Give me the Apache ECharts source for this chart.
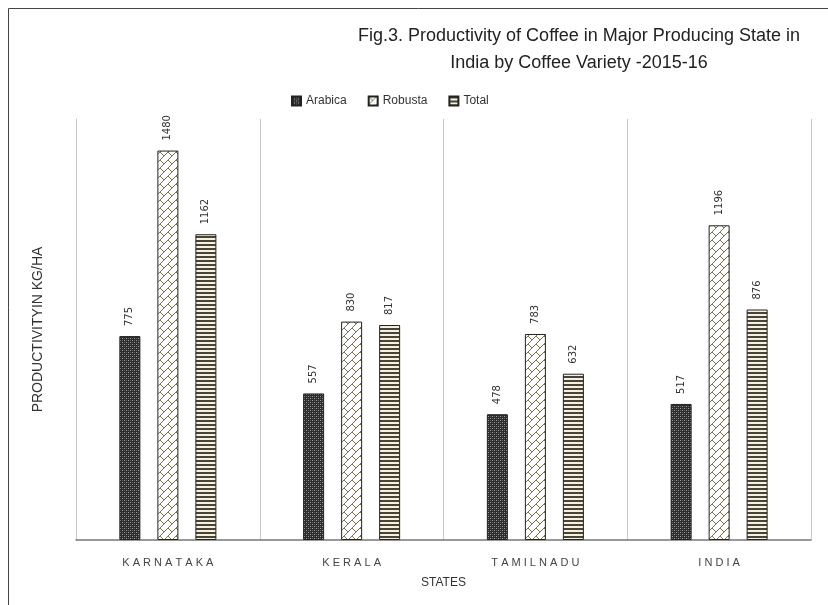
<!DOCTYPE html>
<html>
<head>
<meta charset="utf-8">
<script src="https://cdn.jsdelivr.net/npm/echarts@6/dist/echarts.min.js"></script>
<style>
  html, body { margin: 0; padding: 0; background: #fff; }
  #chart { width: 828px; height: 605px; }
</style>
</head>
<body>
<div id="chart"></div>
<script>
const states = ['KARNATAKA', 'KERALA', 'TAMILNADU', 'INDIA']
const arabica = [775, 557, 478, 517]
const robusta = [1480, 830, 783, 1196]
const total = [1162, 817, 632, 876]

// fill patterns, roughly like the office hatch fills
function makeTile(w, h, draw) {
  const c = document.createElement('canvas')
  c.width = w
  c.height = h
  draw(c.getContext('2d'))
  return c
}

const checkTile = makeTile(4, 4, ctx => {
  ctx.fillStyle = '#2c2c2c'
  ctx.fillRect(0, 0, 4, 4)
  ctx.fillStyle = '#a0a0a0'
  ctx.fillRect(0, 0, 1, 1)
  ctx.fillRect(2, 2, 1, 1)
  ctx.fillStyle = '#606060'
  ctx.fillRect(2, 0, 1, 1)
  ctx.fillRect(0, 2, 1, 1)
})

// diagonal brick ("shingle") hatch
const shingleTile = makeTile(16, 16, ctx => {
  ctx.fillStyle = '#fff'
  ctx.fillRect(0, 0, 16, 16)
  ctx.strokeStyle = '#7d7550'
  ctx.lineWidth = 1
  ctx.beginPath()
  ctx.moveTo(-2, 10); ctx.lineTo(10, -2)
  ctx.moveTo(-2, 18); ctx.lineTo(18, -2)
  ctx.moveTo(6, 18); ctx.lineTo(18, 6)
  ctx.moveTo(0, 0); ctx.lineTo(4, 4)
  ctx.moveTo(8, 8); ctx.lineTo(12, 12)
  ctx.moveTo(8, 0); ctx.lineTo(12, 4)
  ctx.moveTo(0, 8); ctx.lineTo(4, 12)
  ctx.stroke()
})

const stripeTile = makeTile(4, 4, ctx => {
  ctx.fillStyle = '#f3f0e6'
  ctx.fillRect(0, 0, 4, 4)
  ctx.fillStyle = '#4b4431'
  ctx.fillRect(0, 0, 4, 2)
})

function pattern(tile) {
  return { image: tile, repeat: 'repeat' }
}

const labelOpt = {
  show: true,
  position: 'top',
  rotate: 90,
  align: 'left',
  verticalAlign: 'middle',
  distance: 10,
  fontFamily: 'DejaVu Sans',
  fontSize: 10,
  color: '#333'
}

function barSeries(name, data, tile) {
  return {
    name: name,
    type: 'bar',
    data: data,
    barWidth: 21,
    barGap: '81%',
    itemStyle: {
      color: pattern(tile),
      borderColor: '#222',
      borderWidth: 1
    },
    label: labelOpt
  }
}

const chart = echarts.init(document.getElementById('chart'))
const option = {
  animation: false,
  backgroundColor: '#fff',
  textStyle: { fontFamily: 'Liberation Sans' },
  graphic: [
    {
      type: 'rect',
      left: 6,
      top: 6,
      shape: { width: 900, height: 700 },
      style: { fill: 'none', stroke: '#444', lineWidth: 1 },
      silent: true
    }
  ],
  title: {
    text: 'Fig.3. Productivity of Coffee in Major Producing State in\nIndia by Coffee Variety -2015-16',
    left: 574,
    top: 18,
    textAlign: 'center',
    textStyle: {
      fontFamily: 'Liberation Sans',
      fontSize: 18,
      fontWeight: 'normal',
      color: '#222',
      lineHeight: 27
    }
  },
  legend: {
    top: 90,
    left: 286,
    icon: 'rect',
    itemWidth: 9,
    itemHeight: 9,
    itemGap: 21,
    textStyle: { fontSize: 12, color: '#333' },
    data: ['Arabica', 'Robusta', 'Total']
  },
  grid: {
    left: 76,
    right: 17,
    top: 119,
    bottom: 65
  },
  xAxis: {
    type: 'category',
    data: states,
    name: 'STATES',
    nameLocation: 'middle',
    nameGap: 37,
    nameTextStyle: { fontSize: 12, color: '#333' },
    axisLine: { lineStyle: { color: '#777', width: 1.5 } },
    axisTick: { show: false },
    axisLabel: {
      margin: 17,
      fontSize: 11,
      color: '#444',
      formatter: v => v.split('').join(' ')
    },
    splitLine: { show: true, lineStyle: { color: '#c8c8c8' } }
  },
  yAxis: {
    type: 'value',
    min: 0,
    max: 1600,
    name: 'PRODUCTIVITYIN KG/HA',
    nameLocation: 'middle',
    nameGap: 31,
    nameTextStyle: { fontSize: 14, color: '#333' },
    axisLine: { show: true, lineStyle: { color: '#c8c8c8' } },
    axisTick: { show: false },
    axisLabel: { show: false },
    splitLine: { show: false }
  },
  series: [
    barSeries('Arabica', arabica, checkTile),
    barSeries('Robusta', robusta, shingleTile),
    barSeries('Total', total, stripeTile)
  ]
}
chart.setOption(option)
</script>
</body>
</html>
